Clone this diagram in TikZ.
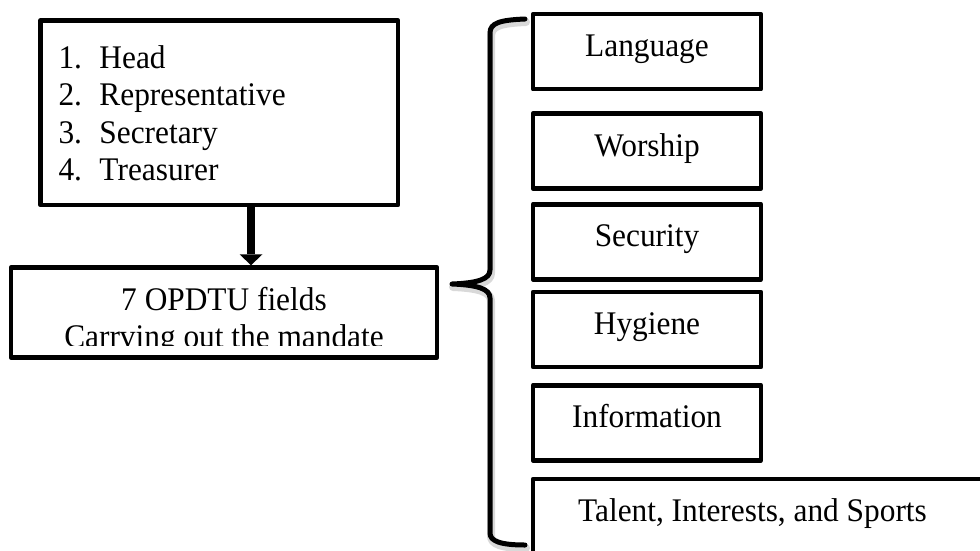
\documentclass[tikz,border=0pt]{standalone}
\usepackage{fontspec}
\setmainfont{Liberation Serif}[FakeStretch=0.95]
\usetikzlibrary{arrows.meta}
\begin{document}
\begin{tikzpicture}[x=1pt,y=-1pt,
  every node/.style={font=\fontsize{33}{39}\selectfont},
  box/.style={draw, line width=4.5pt, inner sep=0pt, line join=round},
  fieldbox/.style={box, minimum width=228pt, minimum height=75pt, text height=21pt, text depth=11pt},
  txt/.style={inner sep=0pt, anchor=base},
  bracestyle/.style={line width=5pt, line cap=round, line join=round}]
\useasboundingbox (0,0) rectangle (980,550);
\fill[white] (0,0) rectangle (980,550);
\clip (0,0) rectangle (980,550);

% top-left box with the list
\node[box, minimum width=357.5pt, minimum height=184.5pt] (roles) at (219.25,112.75) {};
\node[txt, anchor=base west] (r1) at (58.3,68) {\makebox[41pt][l]{1.}Head};
\node[txt, anchor=base west] (r2) at (58.3,105.5) {\makebox[41pt][l]{2.}Representative};
\node[txt, anchor=base west] (r3) at (58.3,143) {\makebox[41pt][l]{3.}Secretary};
\node[txt, anchor=base west] (r4) at (58.3,180) {\makebox[41pt][l]{4.}Treasurer};

% bottom-left box
\node[box, minimum width=426pt, minimum height=90pt] (opdtu) at (224,312.5) {};
\node[txt] (o1) at (224,310.5) {7 OPDTU fields};
\begin{scope}
  \clip (0,0) rectangle (980,345);
  \node[txt] (o2) at (224,347) {Carrving out the mandate};
\end{scope}

% arrow
\coordinate (ax) at (251,0);
\draw[line width=8pt, -{Triangle[width=23pt,length=11pt,line width=0pt]}] (roles.south -| ax) -- (opdtu.north -| ax);

% brace with soft shadow
\draw[bracestyle, black!15, line width=8pt, shift={(1,3)}]
  (525,19) .. controls (500,20) and (490,23) .. (490,33) -- (490,270)
  .. controls (490,279) and (478,283) .. (452,284)
  .. controls (478,285) and (490,289) .. (490,298) -- (490,533)
  .. controls (490,541) and (500,545) .. (525,545);
\draw[bracestyle]
  (525,19) .. controls (500,20) and (490,23) .. (490,33) -- (490,270)
  .. controls (490,279) and (478,283) .. (452,284)
  .. controls (478,285) and (490,289) .. (490,298) -- (490,533)
  .. controls (490,541) and (500,545) .. (525,545);

% right-hand field boxes
\node[fieldbox] (lang) at (647,51.7) {Language};
\node[fieldbox] (worship) at (647,151) {Worship};
\node[fieldbox] (security) at (647,241.75) {Security};
\node[fieldbox] (hygiene) at (647,329.5) {Hygiene};
\node[fieldbox] (info) at (647,422.75) {Information};
\node[box, minimum width=467pt, minimum height=75pt] (talentbox) at (766.5,516.5) {};
\node[txt] (talent) at (752.5,521) {Talent, Interests, and Sports};
\end{tikzpicture}
\end{document}
